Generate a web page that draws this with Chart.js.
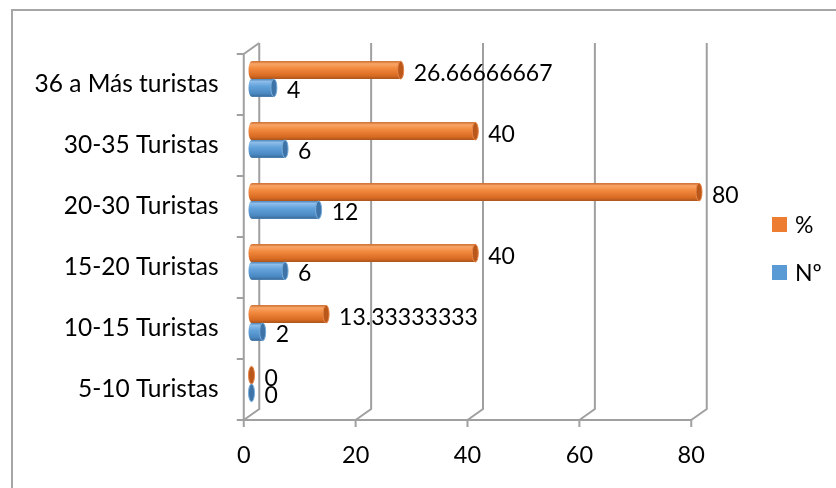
<!DOCTYPE html>
<html>
<head>
<meta charset="utf-8">
<script src="https://cdn.jsdelivr.net/npm/chart.js@4/dist/chart.umd.min.js"></script>
<style>
  html, body { margin: 0; padding: 0; background: #fff; }
  canvas { display: block; }
</style>
</head>
<body>
<canvas id="chart" width="836" height="488"></canvas>
<script>
// Group sizes, listed top to bottom
const categories = ['36 a Más turistas', '30-35 Turistas', '20-30 Turistas', '15-20 Turistas', '10-15 Turistas', '5-10 Turistas'];
const pctValues = [26.66666667, 40, 80, 40, 13.33333333, 0];
const countValues = [4, 6, 12, 6, 2, 0];
const xTicks = [0, 20, 40, 60, 80];
const seriesNames = ['%', 'Nº'];

const FONT = 'Lato, "Open Sans", sans-serif';
const DEPTH_X = 15.5, DEPTH_Y = 11;

const palettes = [
  { main: '#ED7D31', light: '#F9A668', mid: '#F28A3E', dark: '#D86A22', edge: '#C86A2C', edge2: '#A9551C', cap: '#B9581A', rim: '#E8874A' },
  { main: '#5B9BD5', light: '#8DBDE8', mid: '#63A3DC', dark: '#4A88C2', edge: '#4F86BA', edge2: '#3A6A98', cap: '#3D73A6', rim: '#7AAEDD' }
];

function drawCylinder(ctx, x0, x1, yc, h, pal) {
  const r = h / 2, rx = 3;
  const top = yc - r, bot = yc + r;
  if (x1 - x0 > 0.5) {
    const g = ctx.createLinearGradient(0, top, 0, bot);
    g.addColorStop(0, pal.edge);
    g.addColorStop(0.14, pal.light);
    g.addColorStop(0.4, pal.mid);
    g.addColorStop(0.82, pal.dark);
    g.addColorStop(1, pal.edge2);
    ctx.beginPath();
    ctx.ellipse(x0, yc, rx, r, 0, Math.PI / 2, Math.PI * 1.5);
    ctx.lineTo(x1, top);
    ctx.ellipse(x1, yc, rx, r, 0, -Math.PI / 2, Math.PI / 2);
    ctx.closePath();
    ctx.fillStyle = g;
    ctx.fill();
  }
  ctx.beginPath();
  ctx.ellipse(x1, yc, rx, r, 0, 0, Math.PI * 2);
  ctx.fillStyle = pal.cap;
  ctx.fill();
  ctx.strokeStyle = pal.rim;
  ctx.lineWidth = 1;
  ctx.stroke();
}

// Outer frame, 3D walls/floor, cylinders, value labels and legend
const decor = {
  id: 'decor',
  beforeDraw(chart) {
    const ctx = chart.ctx;
    ctx.save();
    ctx.fillStyle = '#fff';
    ctx.fillRect(0, 0, chart.width, chart.height);
    ctx.strokeStyle = '#a6a6a6';
    ctx.lineWidth = 2;
    ctx.beginPath();
    ctx.moveTo(12, chart.height + 2);
    ctx.lineTo(12, 10);
    ctx.lineTo(chart.width + 2, 10);
    ctx.stroke();
    ctx.restore();
  },
  beforeDatasetsDraw(chart) {
    const ctx = chart.ctx;
    const xs = chart.scales.x;
    const area = chart.chartArea;
    const fy = area.bottom + DEPTH_Y / 2, by = area.bottom - DEPTH_Y / 2;
    const ty = area.top - DEPTH_Y / 2;
    ctx.save();
    ctx.strokeStyle = '#a0a0a0';
    ctx.lineWidth = 2;
    ctx.lineCap = 'butt';
    // back grid verticals running into the floor
    xTicks.forEach(v => {
      const p = xs.getPixelForValue(v);
      const fx = p - DEPTH_X / 2, bx = p + DEPTH_X / 2;
      ctx.beginPath();
      ctx.moveTo(bx, ty);
      ctx.lineTo(bx, by);
      ctx.lineTo(fx, fy);
      ctx.stroke();
      // tick mark below the front edge
      ctx.beginPath();
      ctx.moveTo(fx, fy);
      ctx.lineTo(fx, fy + 7);
      ctx.stroke();
    });
    // front edge of the floor
    const f0 = xs.getPixelForValue(xTicks[0]) - DEPTH_X / 2;
    const fN = xs.getPixelForValue(xTicks[xTicks.length - 1]) - DEPTH_X / 2;
    ctx.beginPath();
    ctx.moveTo(f0, fy);
    ctx.lineTo(fN, fy);
    ctx.stroke();
    // left wall front edge and top
    const topFront = area.top + DEPTH_Y / 2;
    ctx.beginPath();
    ctx.moveTo(f0, fy);
    ctx.lineTo(f0, topFront);
    ctx.lineTo(f0 + DEPTH_X, ty);
    ctx.stroke();
    // category boundary ticks on the left wall
    const n = categories.length;
    const step = (area.bottom - area.top) / n;
    for (let i = 0; i <= n; i++) {
      const y = area.top + i * step + DEPTH_Y / 2;
      ctx.beginPath();
      ctx.moveTo(f0 - 7, y);
      ctx.lineTo(f0, y);
      ctx.stroke();
    }
    ctx.restore();
  },
  afterDatasetsDraw(chart) {
    const ctx = chart.ctx;
    ctx.save();
    chart.data.datasets.forEach((ds, di) => {
      const meta = chart.getDatasetMeta(di);
      meta.data.forEach((el) => {
        const p = el.getProps(['x', 'y', 'base', 'height'], true);
        drawCylinder(ctx, p.base, p.x, p.y, p.height, palettes[di]);
      });
    });
    ctx.font = '23px ' + FONT;
    ctx.fillStyle = '#000';
    ctx.textAlign = 'left';
    ctx.textBaseline = 'middle';
    chart.data.datasets.forEach((ds, di) => {
      const meta = chart.getDatasetMeta(di);
      meta.data.forEach((el, i) => {
        const p = el.getProps(['x', 'y'], true);
        ctx.fillText(String(ds.data[i]), p.x + 13, p.y + 3);
      });
    });
    ctx.restore();
  },
  afterDraw(chart) {
    const ctx = chart.ctx;
    ctx.save();
    ctx.font = '23px ' + FONT;
    ctx.textAlign = 'left';
    ctx.textBaseline = 'middle';
    chart.data.datasets.forEach((ds, di) => {
      const cy = 224.5 + di * 48;
      ctx.fillStyle = ds.backgroundColor;
      ctx.fillRect(772, cy - 7.5, 15, 15);
      ctx.fillStyle = '#000';
      ctx.fillText(ds.label, 795, cy + 1);
    });
    ctx.restore();
  }
};

new Chart(document.getElementById('chart'), {
  type: 'bar',
  data: {
    labels: categories,
    datasets: [
      { label: seriesNames[0], data: pctValues, backgroundColor: palettes[0].main },
      { label: seriesNames[1], data: countValues, backgroundColor: palettes[1].main }
    ]
  },
  options: {
    indexAxis: 'y',
    responsive: false,
    animation: false,
    devicePixelRatio: 1,
    layout: { padding: { left: 12, right: 137, top: 48.5, bottom: 0 } },
    datasets: { bar: { categoryPercentage: 0.58, barPercentage: 1 } },
    plugins: { legend: { display: false }, tooltip: { enabled: false } },
    scales: {
      x: {
        min: 0, max: 80,
        afterBuildTicks: s => { s.ticks = xTicks.map(v => ({ value: v })); },
        afterFit: s => { s.height = 73.5; },
        grid: { display: false, drawTicks: false },
        border: { display: false },
        ticks: { font: { family: FONT, size: 23.5 }, color: '#000', padding: 27, labelOffset: -DEPTH_X / 2, maxRotation: 0 }
      },
      y: {
        afterFit: s => { s.width = 239.5; },
        grid: { display: false, drawTicks: false },
        border: { display: false },
        ticks: { font: { family: FONT, size: 24.5 }, color: '#000', padding: 33, labelOffset: DEPTH_Y / 2 }
      }
    }
  },
  plugins: [decor]
});
</script>
</body>
</html>
